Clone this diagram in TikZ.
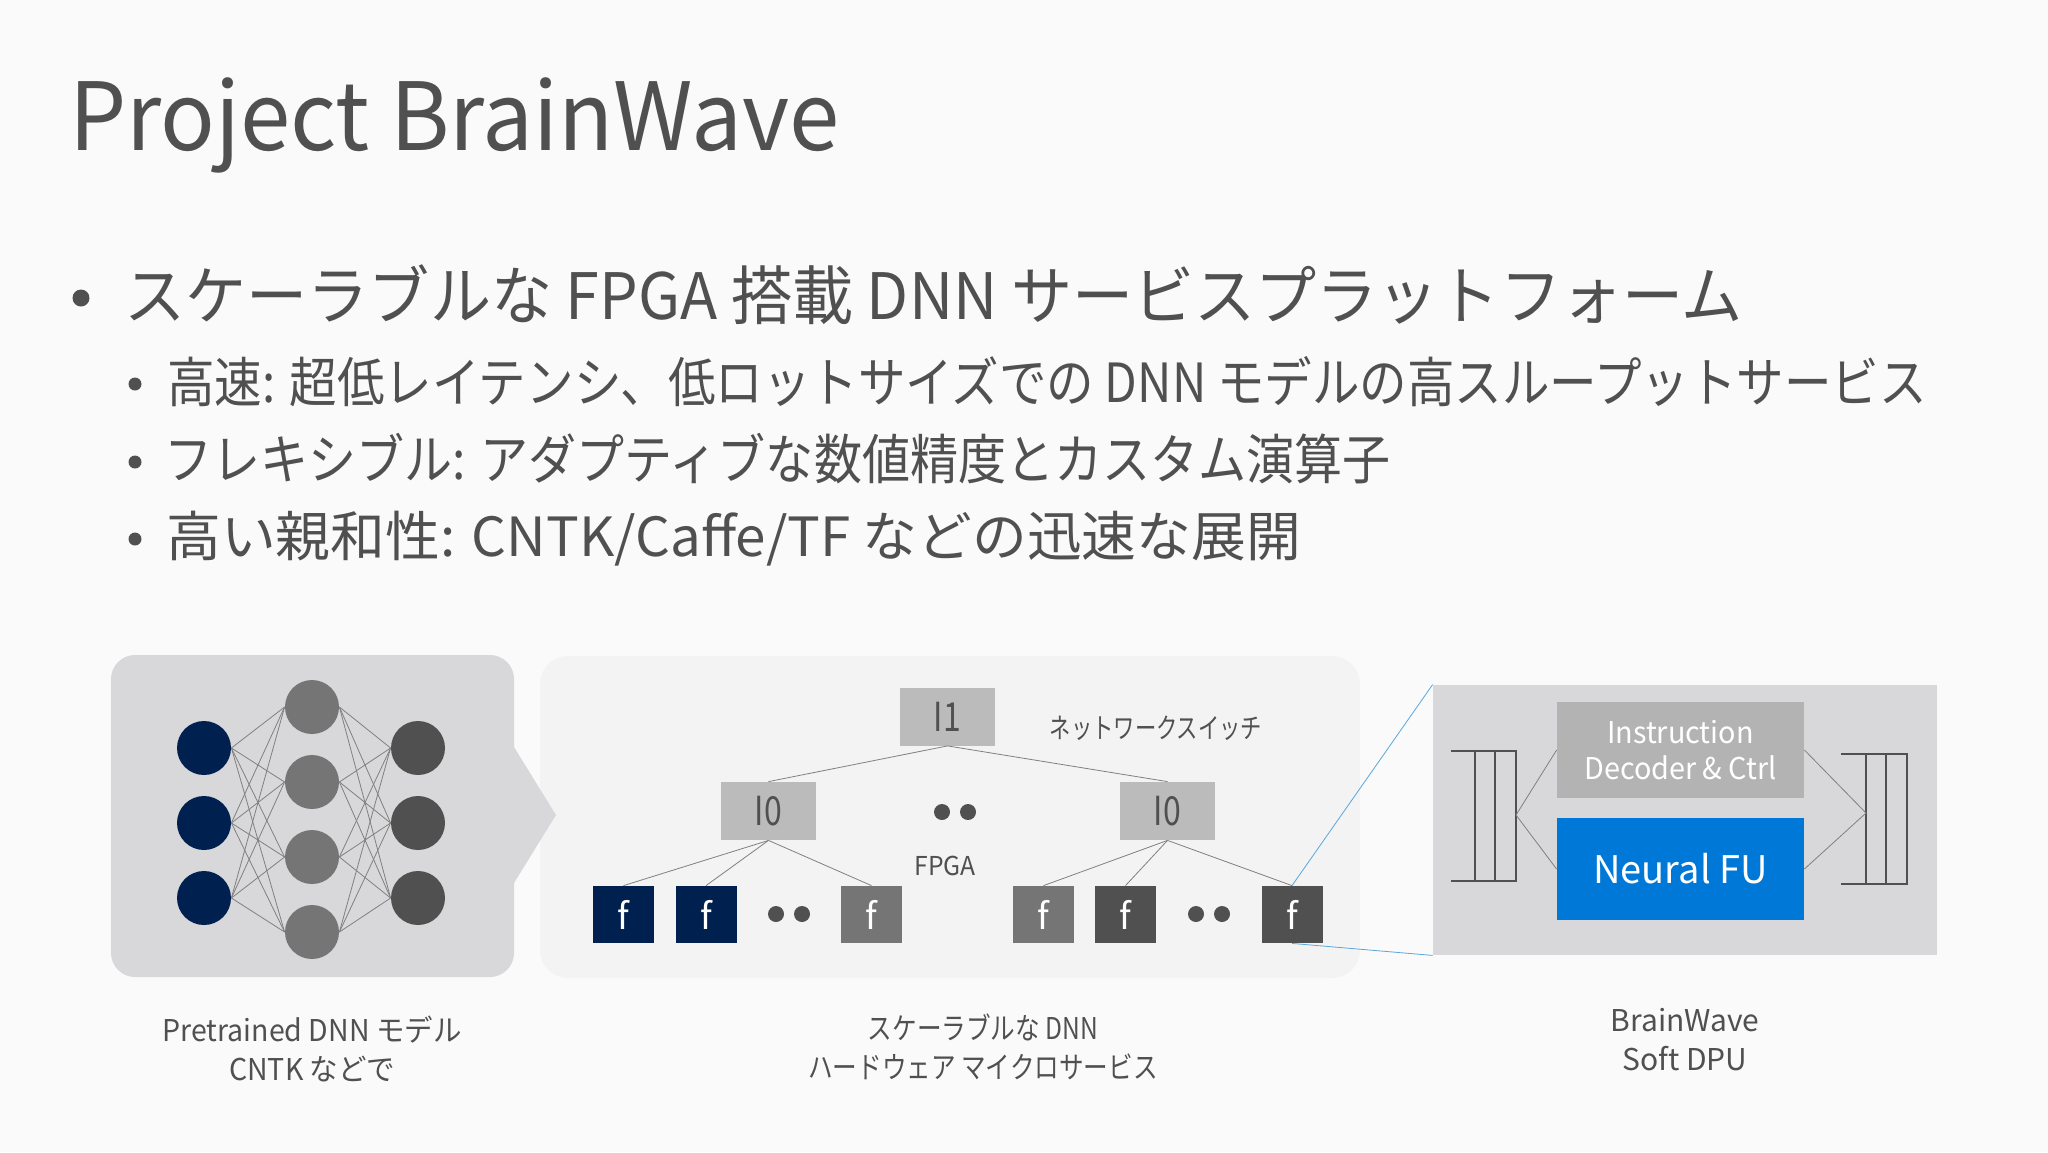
\documentclass[tikz,border=0pt]{standalone}
\usepackage{fontspec}
\setmainfont{Noto Sans CJK JP}

\definecolor{bggray}{HTML}{FAFAFB}
\definecolor{panelgray}{HTML}{D8D8DA}
\definecolor{cloudgray}{HTML}{F3F3F4}
\definecolor{switchgray}{HTML}{BBBBBB}
\definecolor{ctrlgray}{HTML}{B3B3B3}
\definecolor{txtgray}{HTML}{505050}
\definecolor{midgray}{HTML}{757575}
\definecolor{navy}{HTML}{002050}
\definecolor{fublue}{HTML}{0078D7}
\definecolor{zoomblue}{HTML}{5BA7D9}

\tikzset{
  every node/.style={inner sep=0pt,text=txtgray},
  neuron/.style={circle,minimum size=27pt},
  switchbox/.style={fill=switchgray,minimum width=47.5pt,minimum height=29pt,font=\fontsize{20}{22}\selectfont\addfontfeatures{FakeStretch=0.8}},
  fpgabox/.style={minimum width=30.5pt,minimum height=28.5pt,text=white,font=\fontsize{18}{20}\selectfont},
  moredot/.style={circle,fill=txtgray,minimum size=8pt},
  wire/.style={draw=gray,line width=0.4pt},
  reg/.style={draw=txtgray,line width=0.8pt},
  zoomline/.style={draw=zoomblue,line width=0.4pt},
  caption/.style={align=center,font=\fontsize{15}{19.5}\selectfont\addfontfeatures{FakeStretch=#1}},
  head/.style={anchor=west,font=\fontsize{32}{34}\selectfont\addfontfeatures{FakeStretch=0.955}},
  sub/.style={anchor=west,font=\fontsize{27}{30}\selectfont\addfontfeatures{FakeStretch=#1}}
}

\begin{document}
\begin{tikzpicture}[x=0.5pt,y=-0.5pt]
  \fill[bggray] (0,0) rectangle (2048,1152);
  \useasboundingbox (0,0) rectangle (2048,1152);

  % title and bullets
  \node (title) at (69,125)[anchor=west,font=\fontsize{47}{50}\selectfont\addfontfeatures{FakeStretch=0.963}]{Project BrainWave};
  \node (b0) at (81,298)[circle,fill=txtgray,minimum size=8.5pt]{};
  \node (t0) at (124,295)[head]{スケーラブルな FPGA 搭載 DNN サービスプラットフォーム};
  \foreach \n/\y in {1/384,2/462,3/539}
    \node (b\n) at (135,\y)[circle,fill=txtgray,minimum size=6.5pt]{};
  \node (t1) at (167,382)[sub=0.88]{高速: 超低レイテンシ、低ロットサイズでの DNN モデルの高スループットサービス};
  \node (t2) at (164,459)[sub=0.89]{フレキシブル: アダプティブな数値精度とカスタム演算子};
  \node (t3) at (166,539)[sub=1.014]{高い親和性: CNTK/Caffe/TF などの迅速な展開};

  % microservice
  \node (cloud) at (950,817)[fill=cloudgray,rounded corners=14pt,minimum width=410pt,minimum height=161pt]{};
  \node (l1) at (947.5,716.5)[switchbox]{I1};
  \node (l0a) at (768.5,811)[switchbox]{I0};
  \node (l0b) at (1167.5,811)[switchbox]{I0};
  \node (dota) at (942,812)[moredot]{};
  \node (dotb) at (968,812)[moredot]{};
  \node (swlabel) at (1156,728)[font=\fontsize{14}{16}\selectfont\addfontfeatures{FakeStretch=0.76}]{ネットワークスイッチ};
  \node (fpgalabel) at (945,866)[font=\fontsize{13}{15}\selectfont\addfontfeatures{FakeStretch=0.95}]{FPGA};
  \foreach \n/\x/\c in {1/623.5/navy,2/706/navy,3/871.5/midgray,4/1043.5/midgray,5/1125.5/txtgray,6/1292/txtgray}
    \node (f\n) at (\x,914.5)[fpgabox,fill=\c]{f};
  \foreach \n/\x in {c/776,d/802,e/1196,f/1222}
    \node (dot\n) at (\x,914)[moredot]{};
  \foreach \n in {a,b}
    \draw[wire] (l1.south) -- (l0\n.north);
  \foreach \n in {1,2,3}
    \draw[wire] (l0a.south) -- (f\n.north);
  \foreach \n in {4,5,6}
    \draw[wire] (l0b.south) -- (f\n.north);
  \node (cap2) at (983,1047)[caption=0.82]{スケーラブルな DNN\\ハードウェア マイクロサービス};

  % pretrained model
  \node (dnnbox) at (312.5,816)[fill=panelgray,rounded corners=12pt,minimum width=201.5pt,minimum height=161pt]{};
  \fill[panelgray] (514,747) -- (556,815) -- (514,883) -- cycle;
  \foreach \n/\y in {1/748,2/823,3/898}
  { \node (in\n) at (204,\y)[neuron,fill=navy]{};
    \node (out\n) at (418,\y)[neuron,fill=txtgray]{}; }
  \foreach \n/\y in {1/707,2/782,3/857,4/932}
    \node (hid\n) at (312,\y)[neuron,fill=midgray]{};
  \foreach \h in {1,2,3,4}
    \foreach \n in {1,2,3}
    { \draw[wire] (in\n.east) -- (hid\h.west);
      \draw[wire] (hid\h.east) -- (out\n.west); }
  \node (cap1) at (312,1049)[caption=0.95]{Pretrained DNN モデル\\CNTK などで};

  % soft dpu
  \node (dpu) at (1685,820)[fill=panelgray,minimum width=252pt,minimum height=135pt]{};
  \draw[zoomline] (f6.north) -- (dpu.north west);
  \draw[zoomline] (f6.south) -- (dpu.south west);
  \node (instr) at (1680.5,750)[fill=ctrlgray,minimum width=123.5pt,minimum height=48pt,align=center,text=white,font=\fontsize{15}{18}\selectfont\addfontfeatures{FakeStretch=0.96}]{Instruction\\Decoder \& Ctrl};
  \node (fu) at (1680.5,869)[fill=fublue,minimum width=123.5pt,minimum height=51pt,text=white,font=\fontsize{19}{22}\selectfont]{Neural FU};
  \coordinate (rega) at (1516,815);
  \coordinate (regb) at (1866,813);
  \draw[reg] (1451,751) -- (1516,751) -- (1516,881) -- (1451,881);
  \foreach \x in {1475,1495}
    \draw[reg] (\x,751) -- (\x,881);
  \draw[reg] (1841,754) -- (1907,754) -- (1907,884) -- (1841,884);
  \foreach \x in {1866,1886}
    \draw[reg] (\x,754) -- (\x,884);
  \draw[wire] (instr.west) -- (rega) -- (fu.west);
  \draw[wire] (instr.east) -- (regb) -- (fu.east);
  \node (cap3) at (1685,1040)[caption=1]{BrainWave\\Soft DPU};
\end{tikzpicture}
\end{document}
